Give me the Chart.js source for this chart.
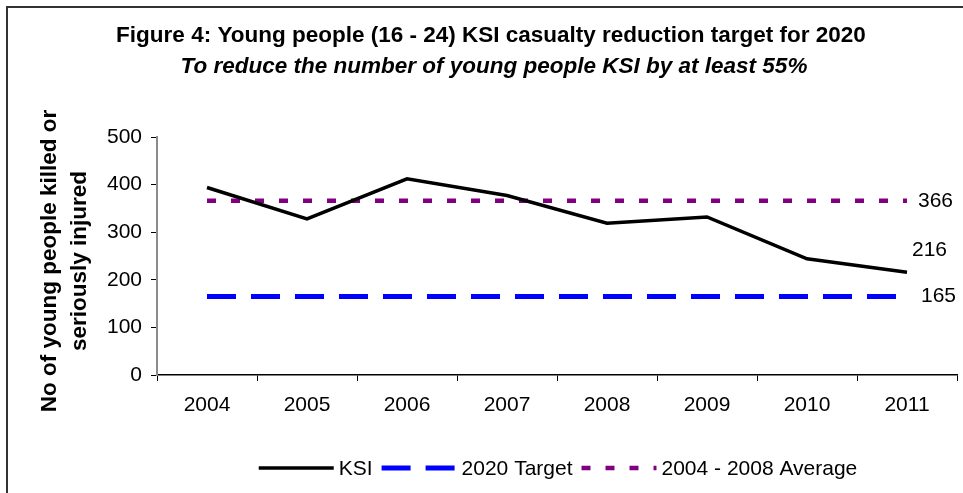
<!DOCTYPE html>
<html>
<head>
<meta charset="utf-8">
<title>Young people KSI casualty reduction target</title>
<script src="https://cdn.jsdelivr.net/npm/chart.js@4.4.1/dist/chart.umd.min.js"></script>
<style>
  html, body { margin: 0; padding: 0; background: #fff; overflow: hidden; }
  canvas { display: block; }
</style>
</head>
<body>
<canvas id="ksi-chart" width="963" height="493"></canvas>
<script>
const years = ['2004', '2005', '2006', '2007', '2008', '2009', '2010', '2011'];
const ksi = [394, 328, 412, 377, 319, 332, 244, 216];
const target2020 = [165, 165, 165, 165, 165, 165, 165, 165];
const average0408 = [366, 366, 366, 366, 366, 366, 366, 366];

const titleText = 'Figure 4: Young people (16 - 24) KSI casualty reduction target for 2020';
const subtitleText = 'To reduce the number of young people KSI by at least 55%';
const yTitleLines = ['No of young people killed or', 'seriously injured'];

const FONT = "'Liberation Sans', Arial, sans-serif";

// white page with the dark frame on the left and top
const framePlugin = {
    id: 'frame',
    beforeDraw(chart) {
        const c = chart.ctx;
        c.save();
        c.fillStyle = '#fff';
        c.fillRect(0, 0, chart.width, chart.height);
        c.strokeStyle = '#333';
        c.lineWidth = 2;
        c.beginPath();
        c.moveTo(7, chart.height);
        c.lineTo(7, 7);
        c.lineTo(chart.width, 7);
        c.stroke();
        c.restore();
    }
};

// title, subtitle and the two-line y axis title
const headingsPlugin = {
    id: 'headings',
    afterDraw(chart) {
        const c = chart.ctx;
        c.save();
        c.fillStyle = '#000';
        c.textAlign = 'center';
        c.textBaseline = 'middle';
        c.font = 'bold 22.5px ' + FONT;
        c.fillText(titleText, 491, 36);
        c.font = 'italic bold 22.5px ' + FONT;
        c.fillText(subtitleText, 494, 67);

        c.translate(0, 261);
        c.rotate(-Math.PI / 2);
        c.font = 'bold 22.5px ' + FONT;
        c.fillText(yTitleLines[0], 0, 50);
        c.fillText(yTitleLines[1], 0, 80);
        c.restore();
    }
};

// value labels at the right end of each line
const endLabelsPlugin = {
    id: 'endLabels',
    afterDatasetsDraw(chart, args, opts) {
        const c = chart.ctx;
        c.save();
        c.fillStyle = '#000';
        c.font = '21px ' + FONT;
        c.textAlign = 'left';
        c.textBaseline = 'middle';
        chart.data.datasets.forEach((ds, i) => {
            const pts = chart.getDatasetMeta(i).data;
            const last = pts[pts.length - 1];
            const off = opts.offsets[i];
            c.fillText(String(ds.data[ds.data.length - 1]), last.x + off[0], last.y + off[1]);
        });
        c.restore();
    }
};

// legend drawn as line samples using each dataset's own stroke
const lineLegendPlugin = {
    id: 'lineLegend',
    afterDraw(chart, args, opts) {
        const c = chart.ctx;
        c.save();
        c.font = '21px ' + FONT;
        c.textBaseline = 'middle';
        c.textAlign = 'left';
        const items = chart.data.datasets;
        let total = 0;
        items.forEach((ds, i) => {
            total += opts.sample + opts.textGap + c.measureText(ds.label).width;
            if (i < items.length - 1) total += opts.itemGap;
        });
        let x = opts.centerX - total / 2;
        const y = opts.y;
        items.forEach(ds => {
            c.strokeStyle = ds.borderColor;
            c.lineWidth = ds.borderWidth;
            c.lineCap = 'butt';
            c.setLineDash(ds.borderDash || []);
            c.beginPath();
            c.moveTo(x, y);
            c.lineTo(x + opts.sample, y);
            c.stroke();
            c.setLineDash([]);
            x += opts.sample + opts.textGap;
            c.fillStyle = '#000';
            c.fillText(ds.label, x, y + 1);
            x += c.measureText(ds.label).width + opts.itemGap;
        });
        c.restore();
    }
};

const chart = new Chart(document.getElementById('ksi-chart'), {
    type: 'line',
    data: {
        labels: years,
        datasets: [
            {
                label: 'KSI',
                data: ksi,
                borderColor: '#000',
                borderWidth: 3.5,
                pointRadius: 0,
                tension: 0
            },
            {
                label: '2020 Target',
                data: target2020,
                borderColor: '#0000ff',
                borderWidth: 5,
                borderDash: [29, 15],
                borderCapStyle: 'butt',
                pointRadius: 0
            },
            {
                label: '2004 - 2008 Average',
                data: average0408,
                borderColor: '#800080',
                borderWidth: 4.5,
                borderDash: [9, 15],
                borderCapStyle: 'butt',
                pointRadius: 0
            }
        ]
    },
    options: {
        responsive: false,
        animation: false,
        layout: { padding: { top: 137, right: 6, left: 0, bottom: 0 } },
        plugins: {
            legend: { display: false },
            title: { display: false },
            tooltip: { enabled: false },
            endLabels: { offsets: [[5, -22], [14, 0], [11, 0]] },
            lineLegend: { centerX: 558, y: 468, sample: 75, textGap: 5, itemGap: 9 }
        },
        scales: {
            x: {
                offset: true,
                afterFit(scale) { scale.height = 118; },
                grid: {
                    display: true,
                    offset: true,
                    drawOnChartArea: false,
                    drawTicks: true,
                    tickLength: 6,
                    color: '#000'
                },
                border: { color: '#000', width: 1.5 },
                ticks: { color: '#000', padding: 12, font: { family: FONT, size: 21 } }
            },
            y: {
                min: 0,
                max: 500,
                afterFit(scale) { scale.width = 157; },
                grid: {
                    drawOnChartArea: false,
                    drawTicks: true,
                    tickLength: 6,
                    color: '#000'
                },
                border: { color: '#8c8c8c', width: 2 },
                ticks: { stepSize: 100, color: '#000', padding: 9, font: { family: FONT, size: 21 } }
            }
        }
    },
    plugins: [framePlugin, headingsPlugin, endLabelsPlugin, lineLegendPlugin]
});
</script>
</body>
</html>
